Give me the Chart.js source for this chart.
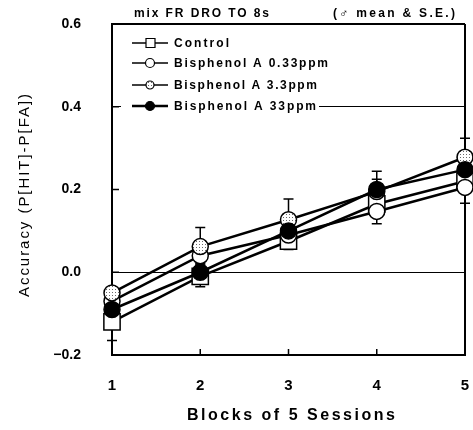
<!DOCTYPE html>
<html>
<head>
<meta charset="utf-8">
<script src="https://cdn.jsdelivr.net/npm/chart.js@4.4.1/dist/chart.umd.min.js"></script>
<style>
    html, body { margin: 0; padding: 0; background: #fff; }
    #wrap { width: 473px; height: 430px; }
</style>
</head>
<body>
<div id="wrap"><canvas id="myChart" width="473" height="430"></canvas></div>
<script>
// Блоки по 5 сесій
const blocks = [1, 2, 3, 4, 5];
const seriesNames = ['Control', 'Bisphenol A 0.33ppm', 'Bisphenol A 3.3ppm', 'Bisphenol A 33ppm'];

// Середні значення
const control = [-0.12, -0.01, 0.075, 0.165, 0.22];
const bpaLow  = [-0.07, 0.04, 0.09, 0.147, 0.205];
const bpaMid  = [-0.05, 0.062, 0.127, 0.195, 0.278];
const bpaHigh = [-0.09, 0.0, 0.10, 0.20, 0.248];

// S.E.
const controlSE = [0.045, 0.025, 0.02, 0.02, 0.02];
const bpaLowSE  = [0.02, 0.02, 0.02, 0.03, 0.038];
const bpaMidSE  = [0.015, 0.046, 0.05, 0.03, 0.046];
const bpaHighSE = [0.02, 0.02, 0.02, 0.044, 0.02];

const yTicks = [-0.2, 0.0, 0.2, 0.4, 0.6];
const xTicks = [1, 2, 3, 4, 5];

const ctx = document.getElementById('myChart').getContext('2d');

// Сірий крапчастий фон маркера
function stipple() {
    const c = document.createElement('canvas');
    c.width = 3; c.height = 3;
    const g = c.getContext('2d');
    g.fillStyle = '#fff';
    g.fillRect(0, 0, 3, 3);
    g.fillStyle = '#6a6a6a';
    g.fillRect(1, 1, 1, 1);
    return ctx.createPattern(c, 'repeat');
}
const dots = stipple();

const toPoints = (vals) => vals.map((v, i) => ({ x: blocks[i], y: v }));
const errors = [controlSE, bpaLowSE, bpaMidSE, bpaHighSE];

const markers = [
    { style: 'rect', radius: 11.5, fill: '#fff' },
    { style: 'circle', radius: 8, fill: '#fff' },
    { style: 'circle', radius: 8, fill: dots },
    { style: 'circle', radius: 8, fill: '#000' },
];

// Текст з розтягуванням до потрібної ширини
function fitText(c, text, x, y, width, font) {
    c.font = font;
    c.letterSpacing = '0px';
    const w = c.measureText(text).width;
    const extra = (width - w) / (text.length - 1);
    c.letterSpacing = extra + 'px';
    c.textAlign = 'left';
    c.fillText(text, x, y);
    c.letterSpacing = '0px';
}

const near = (a, b) => Math.abs(a - b) < 1e-6;

const errorBars = {
    id: 'errorBars',
    beforeDatasetsDraw(chart) {
        const { ctx, scales: { x, y } } = chart;
        ctx.save();
        ctx.strokeStyle = '#000';
        ctx.lineWidth = 1.5;
        chart.data.datasets.forEach((ds, d) => {
            ds.data.forEach((p, i) => {
                const px = x.getPixelForValue(p.x);
                const top = y.getPixelForValue(p.y + errors[d][i]);
                const bot = y.getPixelForValue(p.y - errors[d][i]);
                ctx.beginPath();
                ctx.moveTo(px, top); ctx.lineTo(px, bot);
                ctx.moveTo(px - 5, top); ctx.lineTo(px + 5, top);
                ctx.moveTo(px - 5, bot); ctx.lineTo(px + 5, bot);
                ctx.stroke();
            });
        });
        ctx.restore();
    }
};

const extras = {
    id: 'extras',
    afterDatasetsDraw(chart) {
        const { ctx, scales: { x, y } } = chart;
        ctx.save();

        // Легенда на білому фоні
        ctx.fillStyle = '#fff';
        ctx.fillRect(121, 30, 198, 86);
        const rows = [43, 63, 85, 106];
        rows.forEach((ry, k) => {
            const m = markers[k];
            ctx.strokeStyle = '#000';
            ctx.lineWidth = k === 3 ? 2.5 : 1.5;
            ctx.beginPath();
            ctx.moveTo(132, ry); ctx.lineTo(168, ry);
            ctx.stroke();
            ctx.lineWidth = 1.2;
            ctx.fillStyle = m.fill;
            ctx.beginPath();
            if (m.style === 'rect') {
                ctx.rect(146, ry - 4.5, 9, 9);
            } else {
                ctx.arc(150, ry, k === 2 ? 4 : 4.5, 0, Math.PI * 2);
            }
            ctx.fill();
            ctx.stroke();
            ctx.fillStyle = '#000';
            ctx.textBaseline = 'middle';
            const widths = [55, 154, 143, 142];
            fitText(ctx, seriesNames[k], 174, ry + 0.5, widths[k], 'bold 12px "Liberation Sans"');
        });

        // Внутрішні риски на осях
        ctx.strokeStyle = '#000';
        ctx.lineWidth = 1.5;
        ctx.beginPath();
        yTicks.slice(1, 4).forEach(v => {
            const py = y.getPixelForValue(v);
            ctx.moveTo(x.left, py); ctx.lineTo(x.left + 7, py);
        });
        xTicks.slice(1, 4).forEach(v => {
            const px = x.getPixelForValue(v);
            ctx.moveTo(px, y.bottom); ctx.lineTo(px, y.bottom - 6);
        });
        ctx.stroke();

        // Підписи зверху
        ctx.fillStyle = '#000';
        ctx.textBaseline = 'middle';
        fitText(ctx, 'mix FR DRO TO 8s', 134, 14, 135, 'bold 12px "Liberation Sans"');
        fitText(ctx, '(\u2642 mean & S.E.)', 333, 14, 122, 'bold 12px "Liberation Sans", "DejaVu Sans"');

        // Назва осі X
        fitText(ctx, 'Blocks of 5 Sessions', 187, 416, 208, 'bold 16px "Liberation Sans"');

        // Назва осі Y
        ctx.translate(25, 196);
        ctx.rotate(-Math.PI / 2);
        fitText(ctx, 'Accuracy (P[HIT]-P[FA])', -101, 0, 203, '15px "Liberation Sans"');

        ctx.restore();
    }
};

const datasets = [control, bpaLow, bpaMid, bpaHigh].map((vals, k) => ({
    label: seriesNames[k],
    data: toPoints(vals),
    borderColor: '#000',
    borderWidth: 2.5,
    pointStyle: markers[k].style,
    pointRadius: markers[k].radius,
    pointBackgroundColor: markers[k].fill,
    pointBorderColor: '#000',
    pointBorderWidth: 1.5,
    order: 4 - k,
    tension: 0,
    clip: false,
}));

const myChart = new Chart(ctx, {
    type: 'line',
    data: { datasets: datasets },
    options: {
        responsive: false,
        animation: false,
        events: [],
        layout: {
            autoPadding: false,
            padding: { top: 24, right: 8, left: 0, bottom: 0 }
        },
        plugins: {
            legend: { display: false },
            tooltip: { enabled: false },
        },
        scales: {
            x: {
                type: 'linear',
                min: 1,
                max: 5,
                afterFit: (s) => {
                    s.height = 75;
                    s.paddingLeft = 0;
                    s.paddingRight = 0;
                },
                afterBuildTicks: (s) => { s.ticks = xTicks.map(v => ({ value: v })); },
                ticks: {
                    padding: 22,
                    color: '#000',
                    font: { family: 'Liberation Sans', size: 15, weight: 'bold' },
                    callback: (v) => String(v),
                },
                grid: {
                    drawTicks: false,
                    color: (c) => (c.tick && c.tick.value === 5 ? '#000' : 'rgba(0,0,0,0)'),
                    lineWidth: 2,
                },
                border: { color: '#000', width: 2 },
            },
            y: {
                min: -0.2,
                max: 0.6,
                afterFit: (s) => {
                    s.width = 112;
                    s.paddingTop = 0;
                    s.paddingBottom = 0;
                },
                afterBuildTicks: (s) => { s.ticks = yTicks.map(v => ({ value: v })); },
                ticks: {
                    padding: 31,
                    color: '#000',
                    font: { family: 'Liberation Sans', size: 14, weight: 'bold' },
                    callback: (v) => (v < 0 ? '\u2212' + Math.abs(v).toFixed(1) : v.toFixed(1)),
                },
                grid: {
                    drawTicks: false,
                    color: (c) => {
                        const v = c.tick ? c.tick.value : null;
                        return (near(v, 0) || near(v, 0.4) || near(v, 0.6)) ? '#000' : 'rgba(0,0,0,0)';
                    },
                    lineWidth: (c) => (c.tick && near(c.tick.value, 0.6) ? 2 : 1),
                },
                border: { color: '#000', width: 2 },
            }
        }
    },
    plugins: [errorBars, extras],
});
</script>
</body>
</html>
